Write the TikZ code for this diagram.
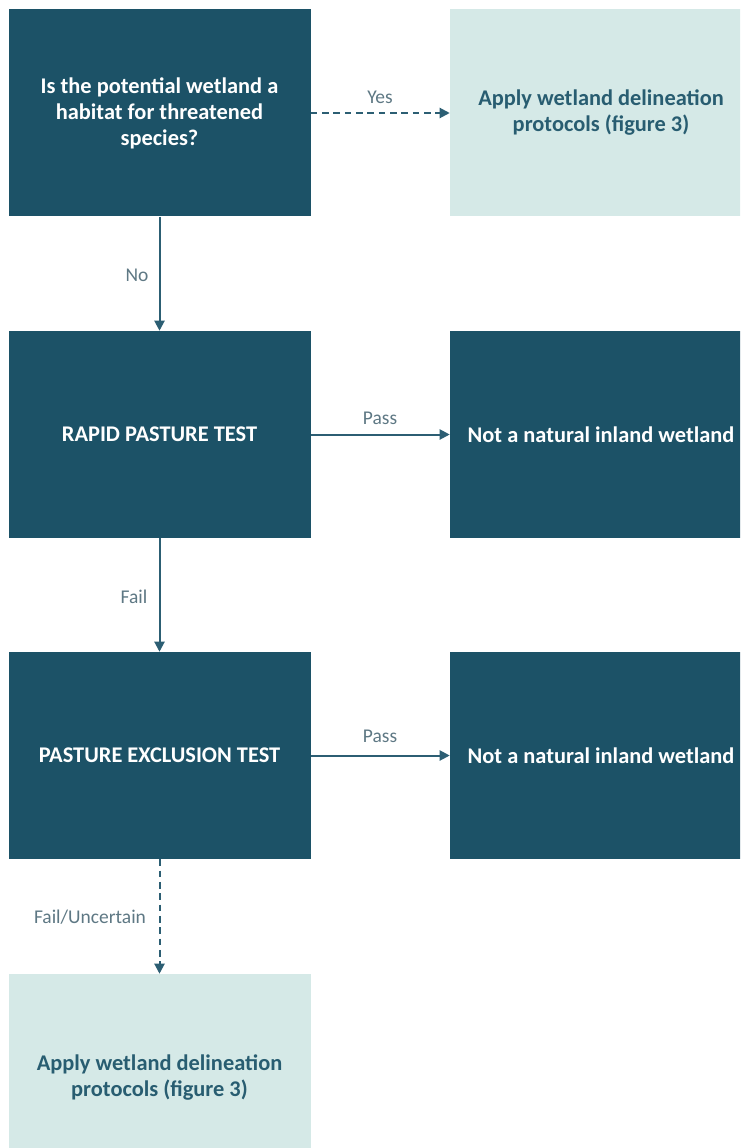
\documentclass[tikz,border=0pt]{standalone}
\usepackage{fontspec}
\setmainfont{Carlito}
\usetikzlibrary{arrows.meta}
\definecolor{darkbox}{HTML}{1C5267}
\definecolor{lightbox}{HTML}{D5E9E7}
\definecolor{lighttext}{HTML}{285D71}
\definecolor{labeltext}{HTML}{5E7884}
\definecolor{arrowcol}{HTML}{2C5E73}
\tikzset{
  darknode/.style={fill=darkbox, draw=none, minimum width=302*0.75pt, minimum height=207*0.75pt, inner sep=0pt, align=center, text=white, font=\fontsize{16.8pt}{19.5pt}\selectfont\bfseries},
  lightnode/.style={darknode, fill=lightbox, text=lighttext},
  conn/.style={draw=arrowcol, line width=1.5pt, -{Triangle[length=7.5pt,width=7.5pt]}},
  dashconn/.style={conn, dash pattern=on 5pt off 3.5pt},
  lbl/.style={text=labeltext, font=\fontsize{14.6pt}{17pt}\selectfont, inner sep=0pt}
}
\begin{document}
\begin{tikzpicture}[x=0.75pt,y=-0.75pt]
\useasboundingbox (0,0) rectangle (740,1148);
\clip (0,0) rectangle (740,1148);
\fill[white] (0,0) rectangle (740,1148);
\node[darknode] (q1) at (159.5,113) {Is the potential wetland a\\habitat for threatened\\species?};
\node[lightnode] (a1) at (601,113) {Apply wetland delineation\\protocols (figure 3)};
\node[darknode] (q2) at (159.5,434.5) {RAPID PASTURE TEST};
\node[darknode] (n1) at (601,434.5) {Not a natural inland wetland};
\node[darknode] (q3) at (159.5,755.5) {PASTURE EXCLUSION TEST};
\node[darknode] (n2) at (601,755.5) {Not a natural inland wetland};
\node[lightnode] (a2) at (159.5,1077.5) {Apply wetland delineation\\protocols (figure 3)};

\draw[dashconn] (q1.east) -- (a1.west);
\draw[conn] (q1.south) -- (q2.north);
\draw[conn] (q2.east) -- (n1.west);
\draw[conn] (q2.south) -- (q3.north);
\draw[conn] (q3.east) -- (n2.west);
\draw[dashconn] (q3.south) -- (a2.north);

\node[lbl] (lyes) at (380,97) {Yes};
\node[lbl] (lno) at (137,275) {No};
\node[lbl] (lpass1) at (380,418) {Pass};
\node[lbl] (lfail) at (134,597) {Fail};
\node[lbl] (lpass2) at (380,736) {Pass};
\node[lbl] (lfu) at (90,917) {Fail/Uncertain};
\end{tikzpicture}
\end{document}
